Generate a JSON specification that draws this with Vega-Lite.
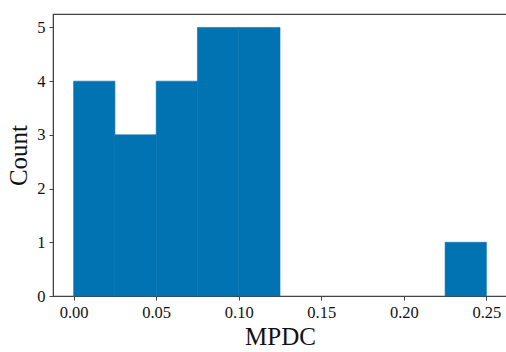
{
  "$schema": "https://vega.github.io/schema/vega-lite/v6.json",
  "width": 454,
  "height": 282,
  "autosize": {"type": "none"},
  "padding": {"left": 53, "top": 14, "right": 0, "bottom": 56},
  "background": "white",
  "config": {
    "view": {"stroke": "#444444", "strokeWidth": 1.2},
    "font": "Liberation Serif",
    "axis": {
      "labelFont": "Liberation Serif",
      "titleFont": "Liberation Serif",
      "labelFontSize": 16.5,
      "titleFontSize": 25,
      "titleFontWeight": "normal",
      "labelColor": "#111111",
      "titleColor": "#111111",
      "domainColor": "#444444",
      "tickColor": "#444444",
      "tickSize": 4,
      "grid": false
    }
  },
  "data": {
    "values": [
      {"bin_start": 0.0, "bin_end": 0.025, "count": 4},
      {"bin_start": 0.025, "bin_end": 0.05, "count": 3},
      {"bin_start": 0.05, "bin_end": 0.075, "count": 4},
      {"bin_start": 0.075, "bin_end": 0.1, "count": 5},
      {"bin_start": 0.1, "bin_end": 0.125, "count": 5},
      {"bin_start": 0.125, "bin_end": 0.15, "count": 0},
      {"bin_start": 0.15, "bin_end": 0.175, "count": 0},
      {"bin_start": 0.175, "bin_end": 0.2, "count": 0},
      {"bin_start": 0.2, "bin_end": 0.225, "count": 0},
      {"bin_start": 0.225, "bin_end": 0.25, "count": 1}
    ]
  },
  "mark": {"type": "bar", "color": "#0173B2", "stroke": "#0173B2", "strokeWidth": 0.6},
  "encoding": {
    "x": {
      "field": "bin_start",
      "type": "quantitative",
      "scale": {"domain": [-0.0125, 0.2625], "nice": false, "zero": false},
      "axis": {"values": [0, 0.05, 0.1, 0.15, 0.2, 0.25], "format": ".2f", "title": "MPDC", "labelPadding": 4, "titlePadding": 4}
    },
    "x2": {"field": "bin_end"},
    "y": {
      "field": "count",
      "type": "quantitative",
      "scale": {"domain": [0, 5.25], "nice": false},
      "axis": {"values": [0, 1, 2, 3, 4, 5], "title": "Count", "labelPadding": 4, "titlePadding": 5}
    },
    "y2": {"datum": 0},
    "strokeOpacity": {"condition": {"test": "datum.count > 0", "value": 1}, "value": 0}
  }
}
